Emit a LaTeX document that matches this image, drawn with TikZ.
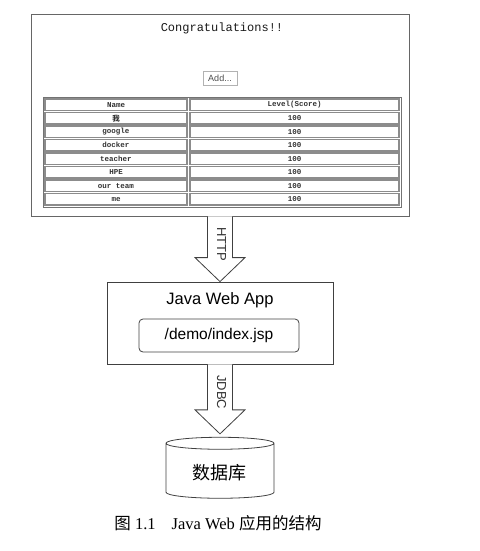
\documentclass[tikz,border=0pt]{standalone}
\usepackage{fontspec}
\setmainfont{Liberation Serif}
\setsansfont{Liberation Sans}
\setmonofont{Liberation Mono}
\newfontfamily\cjk{Noto Sans CJK SC}
\usetikzlibrary{calc, shapes.geometric}

\begin{document}
\begin{tikzpicture}
  [x=1pt, y=-1pt,
   frame/.style={draw=black!60, line width=0.7pt},
   cell/.style={draw=black!45, line width=1.1pt, minimum height=11.5pt, inner sep=0pt,
     font=\ttfamily\bfseries\fontsize{7.5}{8}\selectfont, text=black!80},
   box/.style={draw=black!75, line width=0.8pt},
   fatarrow/.style={draw=black!75, fill=white, line width=0.8pt},
   arrowlabel/.style={rotate=-90, font=\sffamily\fontsize{13}{13}\selectfont, text=black!80}]
  \useasboundingbox (0,0) rectangle (479,551);
  % browser page
  \node (page) [frame, minimum width=378pt, minimum height=202pt] at (220,115) {};
  \node (title) at (222,28) [font=\ttfamily\fontsize{12}{12}\selectfont, text=black!90]
    {Congratulations!!};
  \node (add) at (220,78) [draw=black!30, minimum width=34pt, minimum height=14pt, inner sep=0pt,
    font=\sffamily\fontsize{9}{9}\selectfont, text=black!70] {Add...};
  \node (tbl) [draw=black!55, line width=1pt, minimum width=358pt, minimum height=110pt] at (222,152) {};
  \foreach \name/\score [count=\i from 0] in {Name/Level(Score), {\cjk 我}/100, google/100,
      docker/100, teacher/100, HPE/100, our team/100, me/100}{
    \node (n\i) at (116, 104.75+13.5*\i) [cell, minimum width=142pt] {\name};
    \node (s\i) at (294.5, 104.75+13.5*\i) [cell, minimum width=209pt] {\score};
  }
  % web app
  \node (app) [box, minimum width=226pt, minimum height=82pt] at (220,323) {};
  \node (apptitle) at (220,300) [font=\sffamily\fontsize{16.5}{17}\selectfont] {Java Web App};
  \node (jsp) [box, rounded corners=4pt, minimum width=160pt, minimum height=33pt,
    font=\sffamily\fontsize{15.5}{16}\selectfont] at (219,335.5) {/demo/index.jsp};
  % database
  \node (db) [box, cylinder, shape border rotate=90, aspect=1.8, minimum width=108pt,
    minimum height=61pt] at (220,472) {};
  \node (dbtext) at (219,473) [font=\cjk\fontsize{18}{18}\selectfont] {数据库};
  % arrows
  \foreach \from/\to/\gap/\lbl in {page/app/0/HTTP, app/db/3/JDBC}{
    \coordinate (tip) at ($(\to.north)+(0,-\gap)$);
    \draw [fatarrow] ($(\from.south)+(-12.5,0)$) -- ($(tip)+(-12.5,-24)$) -- ($(tip)+(-25,-24)$)
      -- (tip) -- ($(tip)+(25,-24)$) -- ($(tip)+(12.5,-24)$) -- ($(\from.south)+(12.5,0)$);
    \node (l\lbl) [arrowlabel] at ($(\from.south)+(1.5,28)$) {\lbl};
  }
  \node (caption) at (218,523) [font=\fontsize{16.5}{17}\selectfont]
    {{\cjk 图} 1.1\hspace{16pt}Java Web {\cjk 应用的结构}};
\end{tikzpicture}
\end{document}
